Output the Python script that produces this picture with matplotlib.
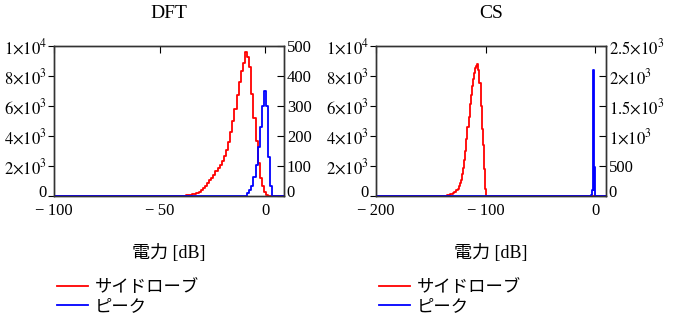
import matplotlib
matplotlib.use('Agg')
import matplotlib.pyplot as plt
import matplotlib.transforms as mtransforms

plt.rcParams['font.family'] = ['Liberation Serif', 'Noto Sans CJK JP']
plt.rcParams['mathtext.fontset'] = 'stix'

# DFT histograms (1 dB bins)
dft_side_x = [-100, -38, -37, -36, -35, -34, -33, -32, -31, -30, -29, -28, -27, -26, -25,
              -24, -23, -22, -21, -20, -19, -18, -17, -16, -15, -14, -13, -12, -11,
              -10, -9, -8, -7, -6, -5, -4, -3, -2, -1, 0, 1, 2, 9]
dft_side_y = [0, 0, 40, 60, 90, 120, 160, 210, 280, 380, 530, 700, 880, 1050, 1200,
              1400, 1700, 1900, 2100, 2350, 2700, 3100, 3600, 4300, 5000, 5800, 6700, 7600, 8300,
              8900, 9600, 9300, 8600, 6800, 5200, 3700, 2200, 1200, 650, 250, 50, 0, 0]
dft_peak_x = [-100, -9, -8, -7, -6, -5, -4, -3, -2, -1, 0, 1, 2, 3, 4, 9]
dft_peak_y = [0, 0, 10, 20, 35, 65, 105, 165, 230, 300, 350, 300, 130, 35, 0, 0]

# CS histograms
cs_side_x = [-200, -137, -136, -135, -134, -133, -132, -131, -130, -129, -128, -127, -126,
             -125, -124, -123, -122, -121, -120, -119, -118, -117, -116, -115, -114,
             -113, -112, -111, -110, -109, -108, -107, -106, -105, -104, -103, -102,
             -101, -100, -99, 10]
cs_side_y = [0, 0, 30, 50, 70, 90, 110, 130, 160, 200, 240, 290, 380,
             500, 650, 850, 1100, 1450, 1900, 2400, 3000, 3800, 4600, 5300, 6100,
             6700, 7300, 7800, 8200, 8500, 8700, 8800, 8400, 7500, 6000, 4500, 3400,
             1800, 500, 0, 0]
cs_peak_x = [-200, -3.5, -3, -2.5, -2, -1.5, -1, -0.5, 0, 0.5, 10]
cs_peak_y = [0, 0, 20, 100, 320, 2100, 100, 490, 60, 0, 0]

left_ticks = [0, 2000, 4000, 6000, 8000, 10000]
left_labels = ['0', r'$2{\times}10^3$', r'$4{\times}10^3$', r'$6{\times}10^3$',
               r'$8{\times}10^3$', r'$1{\times}10^4$']
dft_right_ticks = [0, 100, 200, 300, 400, 500]
dft_right_labels = ['0', '100', '200', '300', '400', '500']
cs_right_ticks = [0, 500, 1000, 1500, 2000, 2500]
cs_right_labels = ['0', '500', r'$1{\times}10^3$', r'$1.5{\times}10^3$',
                   r'$2{\times}10^3$', r'$2.5{\times}10^3$']

panels = [
    ('DFT', 54, (-100, 9), [-100, -50, 0], dft_side_x, dft_side_y, dft_peak_x, dft_peak_y,
     (0, 500), dft_right_ticks, dft_right_labels),
    ('CS', 376, (-200, 10), [-200, -100, 0], cs_side_x, cs_side_y, cs_peak_x, cs_peak_y,
     (0, 2500), cs_right_ticks, cs_right_labels),
]

W, H = 676, 324
fig = plt.figure(figsize=(W / 100, H / 100), dpi=100)
lift = mtransforms.ScaledTranslation(0, 3.5 / 72, fig.dpi_scale_trans)

for title, x0, xlim, xticks, sx, sy, px, py, rlim, rticks, rlabels in panels:
    ax = fig.add_axes([x0 / W, (H - 196) / H, 230 / W, 150 / H])
    l1, = ax.step(sx, sy, where='mid', color='#ff0000', lw=1.3, label='サイドローブ')
    ax.set_xlim(*xlim)
    ax.set_ylim(0, 10000)
    ax.set_xticks(xticks)
    ax.set_xticklabels(['\u2212\u2009' + str(-t) if t < 0 else str(t) for t in xticks])
    ax.set_yticks(left_ticks)
    ax.set_yticklabels(left_labels)
    ax.tick_params(axis='x', direction='in', top=True, bottom=False, length=5,
                   labelsize=12, pad=5)
    ax.tick_params(axis='y', direction='out', length=4, labelsize=12, pad=1)
    for s in ax.spines.values():
        s.set_color('#333333')
        s.set_linewidth(1.0)

    ax2 = ax.twinx()
    l2, = ax2.step(px, py, where='mid', color='#0000ff', lw=1.3, label='ピーク')
    ax2.set_ylim(*rlim)
    ax2.set_yticks(rticks)
    ax2.set_yticklabels(rlabels)
    ax2.tick_params(axis='y', direction='in', length=5, labelsize=12, pad=2)
    for s in ax2.spines.values():
        s.set_color('#333333')
        s.set_linewidth(1.0)

    # raise the "0" labels so they clear the x tick labels
    for lab in (ax.get_yticklabels()[0], ax2.get_yticklabels()[0]):
        lab.set_transform(lab.get_transform() + lift)

    ax.set_title(title, fontsize=14, pad=20)
    ax.set_xlabel('電力 [dB]', fontsize=13)
    ax.xaxis.set_label_coords(0.5, -0.32)

    ax.legend([l1, l2], ['サイドローブ', 'ピーク'], loc='upper left',
              bbox_to_anchor=(0.013, -0.55), frameon=False, borderpad=0,
              borderaxespad=0, handlelength=1.8, handletextpad=0.4,
              labelspacing=0.05, prop={'family': ['Noto Sans CJK JP'], 'size': 12.5})

fig.savefig('out.png', dpi=100)
